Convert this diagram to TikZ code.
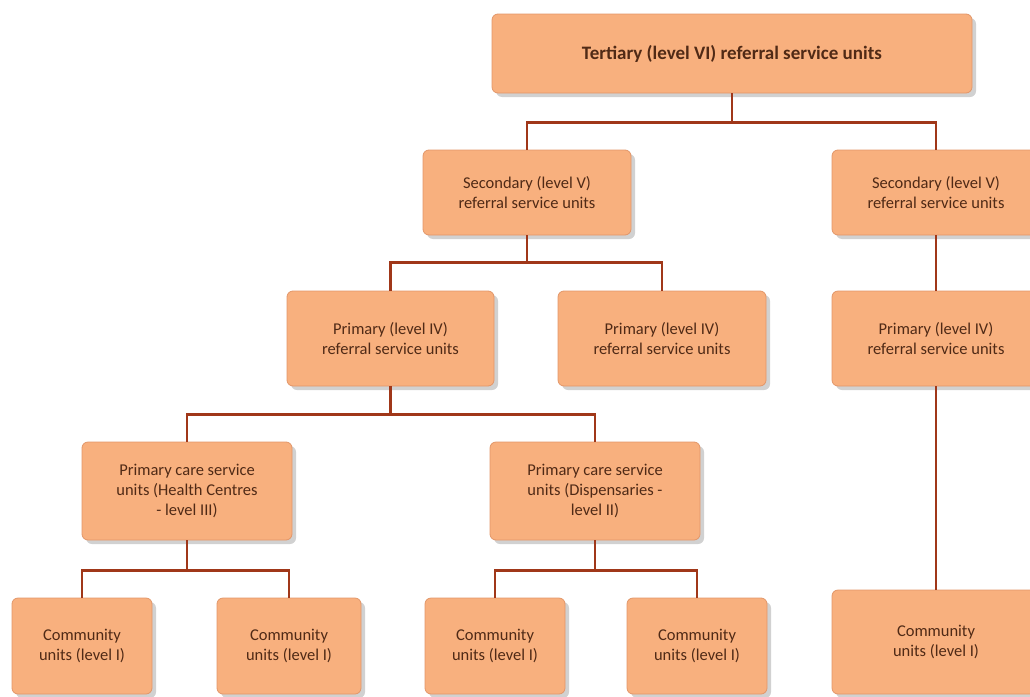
\documentclass[tikz,border=0pt]{standalone}
\usepackage{fontspec}
\setmainfont{Carlito}
\usetikzlibrary{positioning, shadows}
\definecolor{boxfill}{RGB}{248,176,126}
\definecolor{boxedge}{RGB}{226,150,105}
\definecolor{linkred}{RGB}{160,55,25}
\definecolor{txtbrown}{RGB}{80,42,22}
\tikzset{
  unit/.style={
    draw=boxedge,
    line width=0.8pt,
    rectangle,
    rounded corners=6pt,
    fill=boxfill,
    align=center,
    text=txtbrown,
    font=\fontsize{16.5}{20}\selectfont,
    drop shadow={shadow xshift=4pt, shadow yshift=-4pt, opacity=0.3, fill=black!60}
  },
  link/.style={
    draw=linkred,
    line width=2.6pt
  }
}

\begin{document}
\begin{tikzpicture}[x=1pt, y=-1pt]
    \useasboundingbox (0,0) rectangle (1030,696);
    % top level
    \node[unit, minimum width=480pt, minimum height=79pt, font=\fontsize{19}{22}\selectfont\bfseries] (tert) at (732,53.5) {Tertiary (level VI) referral service units};
    % level V
    \node[unit, minimum width=208pt, minimum height=85pt] (secL) at (527,192.5) {Secondary (level V)\\referral service units};
    \node[unit, minimum width=208pt, minimum height=85pt] (secR) at (936,192.5) {Secondary (level V)\\referral service units};
    % level IV
    \node[unit, minimum width=207pt, minimum height=95pt] (priL) at (390.5,338.5) {Primary (level IV)\\referral service units};
    \node[unit, minimum width=208pt, minimum height=95pt] (priM) at (662,338.5) {Primary (level IV)\\referral service units};
    \node[unit, minimum width=208pt, minimum height=95pt] (priR) at (936,338.5) {Primary (level IV)\\referral service units};
    % level III and II
    \node[unit, minimum width=210pt, minimum height=98pt] (careL) at (187,491) {Primary care service\\units (Health Centres\\- level III)};
    \node[unit, minimum width=210pt, minimum height=98pt] (careM) at (595,491) {Primary care service\\units (Dispensaries -\\level II)};
    % level I
    \node[unit, minimum width=140pt, minimum height=96pt] (com1) at (82,646) {Community\\units (level I)};
    \node[unit, minimum width=144pt, minimum height=96pt] (com2) at (289,646) {Community\\units (level I)};
    \node[unit, minimum width=140pt, minimum height=96pt] (com3) at (495,646) {Community\\units (level I)};
    \node[unit, minimum width=140pt, minimum height=96pt] (com4) at (697,646) {Community\\units (level I)};
    \node[unit, minimum width=208pt, minimum height=104pt] (com5) at (936,642) {Community\\units (level I)};

    % connectors
    \draw[link] (tert.south) -- ++(0,29) -| (secL.north);
    \draw[link] (tert.south) -- ++(0,29) -| (secR.north);
    \draw[link] (secL.south) -- ++(0,27) -| (priL.north);
    \draw[link] (secL.south) -- ++(0,27) -| (priM.north);
    \draw[link] (secR.south) -- (priR.north);
    \draw[link] (priL.south) -- ++(0,28) -| (careL.north);
    \draw[link] (priL.south) -- ++(0,28) -| (careM.north);
    \draw[link] (priR.south) -- (com5.north);
    \draw[link] (careL.south) -- ++(0,30) -| (com1.north);
    \draw[link] (careL.south) -- ++(0,30) -| (com2.north);
    \draw[link] (careM.south) -- ++(0,30) -| (com3.north);
    \draw[link] (careM.south) -- ++(0,30) -| (com4.north);
\end{tikzpicture}
\end{document}
